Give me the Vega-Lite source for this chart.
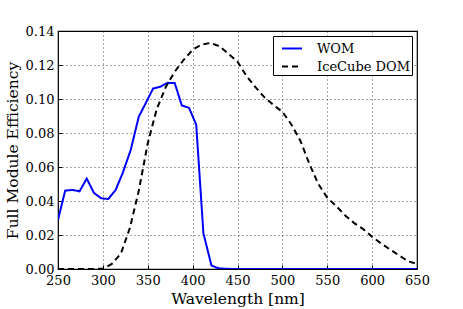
{
  "$schema": "https://vega.github.io/schema/vega-lite/v6.json",
  "width": 359,
  "height": 238,
  "autosize": {"type": "none"},
  "padding": {"left": 58, "top": 31, "right": 46, "bottom": 40},
  "background": "white",
  "config": {
    "font": "DejaVu Serif",
    "view": {"stroke": "black", "strokeWidth": 1.2},
    "axis": {
      "labelFont": "DejaVu Serif",
      "titleFont": "DejaVu Serif",
      "labelColor": "black",
      "titleColor": "black",
      "labelFontSize": 13,
      "titleFontSize": 15.5,
      "titleFontWeight": "normal",
      "domain": false,
      "tickColor": "black",
      "tickSize": -4,
      "grid": true,
      "gridColor": "black",
      "gridDash": [1, 3],
      "gridOpacity": 0.7,
      "gridWidth": 1
    }
  },
  "data": {
    "values": [
      {"wavelength": 250, "efficiency": 0.0289, "series": "WOM"},
      {"wavelength": 258, "efficiency": 0.0461, "series": "WOM"},
      {"wavelength": 266, "efficiency": 0.0465, "series": "WOM"},
      {"wavelength": 274, "efficiency": 0.0457, "series": "WOM"},
      {"wavelength": 282, "efficiency": 0.0532, "series": "WOM"},
      {"wavelength": 290, "efficiency": 0.0448, "series": "WOM"},
      {"wavelength": 298, "efficiency": 0.0416, "series": "WOM"},
      {"wavelength": 306, "efficiency": 0.0412, "series": "WOM"},
      {"wavelength": 314, "efficiency": 0.0463, "series": "WOM"},
      {"wavelength": 322, "efficiency": 0.0563, "series": "WOM"},
      {"wavelength": 331, "efficiency": 0.0700, "series": "WOM"},
      {"wavelength": 340, "efficiency": 0.0896, "series": "WOM"},
      {"wavelength": 348, "efficiency": 0.0978, "series": "WOM"},
      {"wavelength": 356, "efficiency": 0.1062, "series": "WOM"},
      {"wavelength": 364, "efficiency": 0.1072, "series": "WOM"},
      {"wavelength": 372, "efficiency": 0.1095, "series": "WOM"},
      {"wavelength": 380, "efficiency": 0.1094, "series": "WOM"},
      {"wavelength": 388, "efficiency": 0.0962, "series": "WOM"},
      {"wavelength": 396, "efficiency": 0.0948, "series": "WOM"},
      {"wavelength": 404, "efficiency": 0.0849, "series": "WOM"},
      {"wavelength": 412, "efficiency": 0.0211, "series": "WOM"},
      {"wavelength": 421, "efficiency": 0.0020, "series": "WOM"},
      {"wavelength": 429, "efficiency": 0.0004, "series": "WOM"},
      {"wavelength": 437, "efficiency": 0.0001, "series": "WOM"},
      {"wavelength": 450, "efficiency": 0.0, "series": "WOM"},
      {"wavelength": 500, "efficiency": 0.0, "series": "WOM"},
      {"wavelength": 550, "efficiency": 0.0, "series": "WOM"},
      {"wavelength": 600, "efficiency": 0.0, "series": "WOM"},
      {"wavelength": 650, "efficiency": 0.0, "series": "WOM"},
      {"wavelength": 250, "efficiency": 0.0, "series": "IceCube DOM"},
      {"wavelength": 260, "efficiency": 0.0, "series": "IceCube DOM"},
      {"wavelength": 270, "efficiency": 0.0, "series": "IceCube DOM"},
      {"wavelength": 280, "efficiency": 0.0, "series": "IceCube DOM"},
      {"wavelength": 290, "efficiency": 0.0, "series": "IceCube DOM"},
      {"wavelength": 300, "efficiency": 0.0002, "series": "IceCube DOM"},
      {"wavelength": 310, "efficiency": 0.003, "series": "IceCube DOM"},
      {"wavelength": 320, "efficiency": 0.009, "series": "IceCube DOM"},
      {"wavelength": 330, "efficiency": 0.024, "series": "IceCube DOM"},
      {"wavelength": 340, "efficiency": 0.046, "series": "IceCube DOM"},
      {"wavelength": 350, "efficiency": 0.074, "series": "IceCube DOM"},
      {"wavelength": 360, "efficiency": 0.094, "series": "IceCube DOM"},
      {"wavelength": 370, "efficiency": 0.107, "series": "IceCube DOM"},
      {"wavelength": 380, "efficiency": 0.116, "series": "IceCube DOM"},
      {"wavelength": 390, "efficiency": 0.123, "series": "IceCube DOM"},
      {"wavelength": 400, "efficiency": 0.129, "series": "IceCube DOM"},
      {"wavelength": 410, "efficiency": 0.132, "series": "IceCube DOM"},
      {"wavelength": 420, "efficiency": 0.133, "series": "IceCube DOM"},
      {"wavelength": 430, "efficiency": 0.131, "series": "IceCube DOM"},
      {"wavelength": 440, "efficiency": 0.1265, "series": "IceCube DOM"},
      {"wavelength": 450, "efficiency": 0.122, "series": "IceCube DOM"},
      {"wavelength": 460, "efficiency": 0.1135, "series": "IceCube DOM"},
      {"wavelength": 470, "efficiency": 0.107, "series": "IceCube DOM"},
      {"wavelength": 480, "efficiency": 0.101, "series": "IceCube DOM"},
      {"wavelength": 490, "efficiency": 0.0965, "series": "IceCube DOM"},
      {"wavelength": 500, "efficiency": 0.0925, "series": "IceCube DOM"},
      {"wavelength": 510, "efficiency": 0.085, "series": "IceCube DOM"},
      {"wavelength": 520, "efficiency": 0.0755, "series": "IceCube DOM"},
      {"wavelength": 530, "efficiency": 0.062, "series": "IceCube DOM"},
      {"wavelength": 540, "efficiency": 0.050, "series": "IceCube DOM"},
      {"wavelength": 550, "efficiency": 0.042, "series": "IceCube DOM"},
      {"wavelength": 560, "efficiency": 0.037, "series": "IceCube DOM"},
      {"wavelength": 570, "efficiency": 0.0315, "series": "IceCube DOM"},
      {"wavelength": 580, "efficiency": 0.027, "series": "IceCube DOM"},
      {"wavelength": 590, "efficiency": 0.0235, "series": "IceCube DOM"},
      {"wavelength": 600, "efficiency": 0.019, "series": "IceCube DOM"},
      {"wavelength": 610, "efficiency": 0.015, "series": "IceCube DOM"},
      {"wavelength": 620, "efficiency": 0.0115, "series": "IceCube DOM"},
      {"wavelength": 630, "efficiency": 0.008, "series": "IceCube DOM"},
      {"wavelength": 640, "efficiency": 0.0045, "series": "IceCube DOM"},
      {"wavelength": 650, "efficiency": 0.003, "series": "IceCube DOM"}
    ]
  },
  "mark": {"type": "line", "strokeWidth": 2, "clip": true},
  "encoding": {
    "x": {
      "field": "wavelength",
      "type": "quantitative",
      "scale": {"domain": [250, 650], "nice": false, "zero": false},
      "axis": {"values": [250, 300, 350, 400, 450, 500, 550, 600, 650], "title": "Wavelength [nm]", "labelPadding": 9, "titlePadding": 4, "labelFlush": false}
    },
    "y": {
      "field": "efficiency",
      "type": "quantitative",
      "scale": {"domain": [0, 0.14], "nice": false},
      "axis": {"values": [0, 0.02, 0.04, 0.06, 0.08, 0.1, 0.12, 0.14], "format": ".2f", "title": "Full Module Efficiency", "labelPadding": 8, "titlePadding": 5, "labelFlush": false}
    },
    "color": {
      "field": "series",
      "type": "nominal",
      "scale": {"domain": ["WOM", "IceCube DOM"], "range": ["#0000ff", "#000000"]},
      "legend": {
        "title": null,
        "orient": "none",
        "legendX": 215,
        "legendY": 5,
        "strokeColor": "black",
        "fillColor": "white",
        "padding": 1.5,
        "symbolType": "stroke",
        "symbolSize": 400,
        "symbolStrokeWidth": 2,
        "symbolOffset": 6.5,
        "labelFont": "DejaVu Serif",
        "labelFontSize": 13,
        "labelColor": "black",
        "labelOffset": 14,
        "rowPadding": -3
      }
    },
    "strokeDash": {
      "field": "series",
      "type": "nominal",
      "scale": {"domain": ["WOM", "IceCube DOM"], "range": [[1, 0], [6, 4]]},
      "legend": {
        "title": null,
        "orient": "none",
        "legendX": 215,
        "legendY": 5,
        "strokeColor": "black",
        "fillColor": "white",
        "padding": 1.5,
        "symbolType": "stroke",
        "symbolSize": 400,
        "symbolStrokeWidth": 2,
        "symbolOffset": 6.5,
        "labelFont": "DejaVu Serif",
        "labelFontSize": 13,
        "labelColor": "black",
        "labelOffset": 14,
        "rowPadding": -3
      }
    }
  }
}
